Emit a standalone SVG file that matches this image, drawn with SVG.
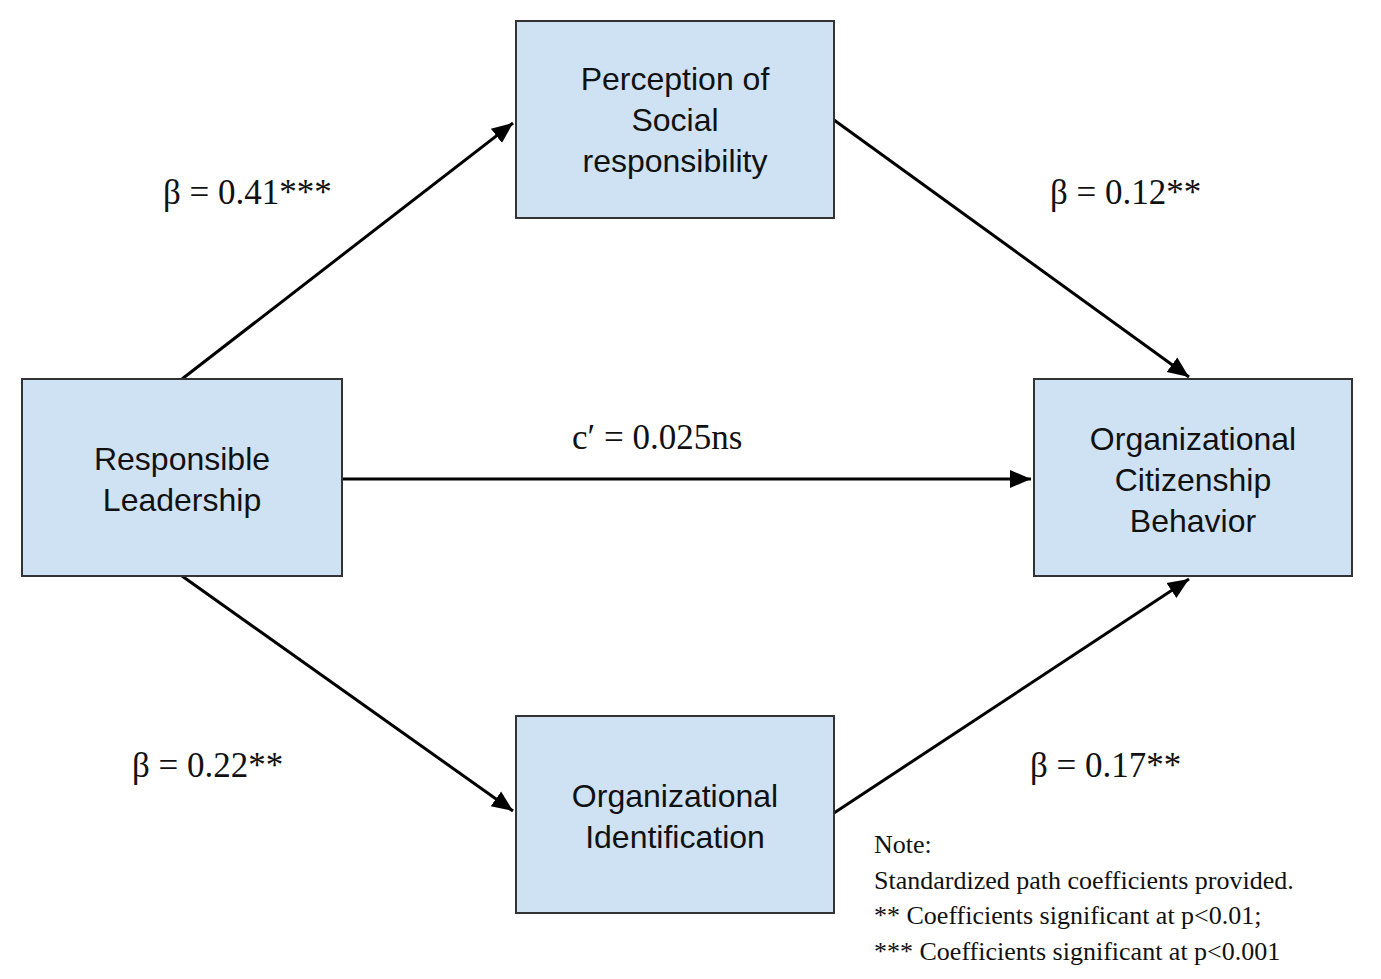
<svg xmlns="http://www.w3.org/2000/svg" width="1381" height="979" viewBox="0 0 1381 979">
<style>
.box{fill:#cfe2f3;stroke:#333;stroke-width:2}
.nt{font-family:"Liberation Sans",Arial,sans-serif;font-size:32px;fill:#111;text-anchor:middle}
.lb{font-family:"Liberation Serif","Times New Roman",serif;font-size:35px;fill:#111}
.note{font-family:"Liberation Serif","Times New Roman",serif;font-size:26px;fill:#111}
.c{stroke:#000;stroke-width:3;fill:none;marker-end:url(#ah)}
</style>
<defs><marker id="ah" markerWidth="8" markerHeight="8" refX="7" refY="4" orient="auto" markerUnits="strokeWidth"><path d="M0,1 L7,4 L0,7 Z" fill="#000"/></marker></defs>
<rect width="1381" height="979" fill="#fff"/>
<g id="connectors">
<line class="c" x1="182" y1="379" x2="513" y2="123"/>
<line class="c" x1="834" y1="120" x2="1189" y2="377"/>
<line class="c" x1="342" y1="479" x2="1031" y2="479"/>
<line class="c" x1="182" y1="576" x2="513" y2="811"/>
<line class="c" x1="834" y1="813" x2="1189" y2="579"/>
</g>
<g id="n1"><rect class="box" x="516" y="21" width="318" height="197"/><text class="nt" x="675" y="90">Perception of</text><text class="nt" x="675" y="131">Social</text><text class="nt" x="675" y="172">responsibility</text></g>
<g id="n2"><rect class="box" x="22" y="379" width="320" height="197"/><text class="nt" x="182" y="470">Responsible</text><text class="nt" x="182" y="511">Leadership</text></g>
<g id="n3"><rect class="box" x="1034" y="379" width="318" height="197"/><text class="nt" x="1193" y="450">Organizational</text><text class="nt" x="1193" y="491">Citizenship</text><text class="nt" x="1193" y="532">Behavior</text></g>
<g id="n4"><rect class="box" x="516" y="716" width="318" height="197"/><text class="nt" x="675" y="807">Organizational</text><text class="nt" x="675" y="848">Identification</text></g>
<g id="labels">
<text class="lb" x="163" y="204">β = 0.41***</text>
<text class="lb" x="1050" y="204">β = 0.12**</text>
<text class="lb" x="572" y="449">c′ = 0.025ns</text>
<text class="lb" x="132" y="777">β = 0.22**</text>
<text class="lb" x="1030" y="777">β = 0.17**</text>
<text class="note" x="874" y="853">Note:</text>
<text class="note" x="874" y="889">Standardized path coefficients provided.</text>
<text class="note" x="874" y="924">** Coefficients significant at p&lt;0.01;</text>
<text class="note" x="874" y="960">*** Coefficients significant at p&lt;0.001</text>
</g>
</svg>
